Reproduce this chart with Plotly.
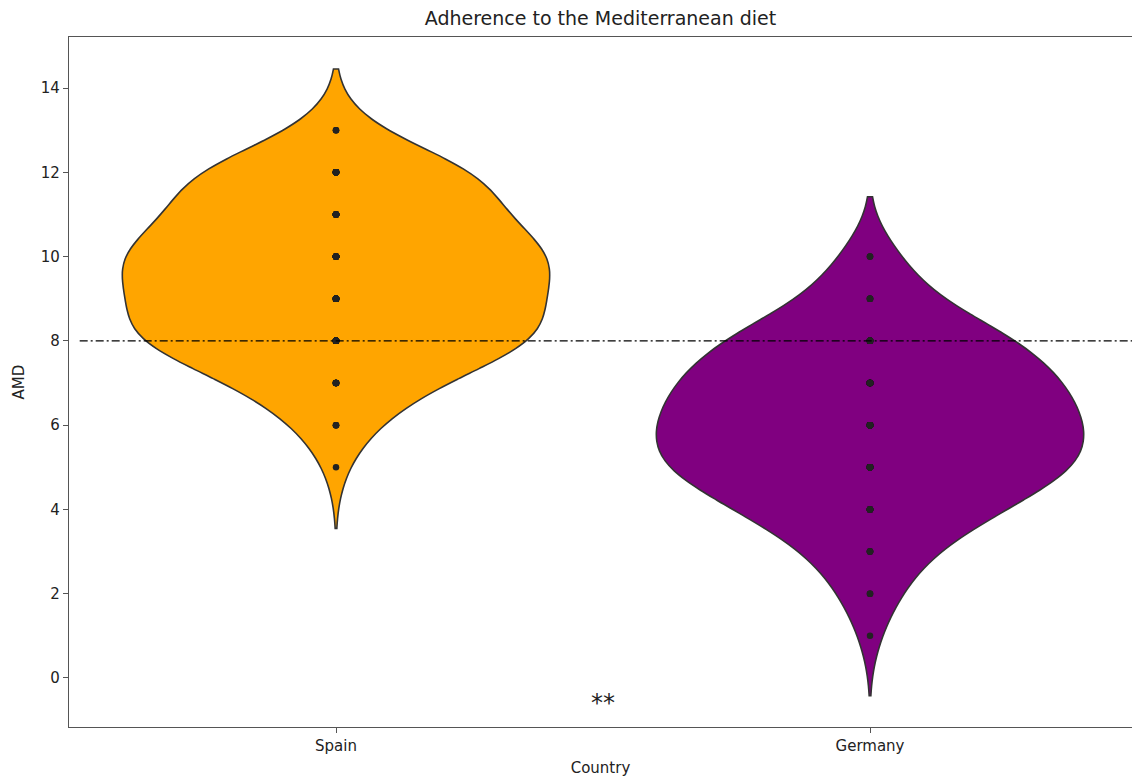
import numpy as np
import plotly.graph_objects as go

# AMD (Mediterranean diet adherence) scores and how many respondents gave each
countries = ["Spain", "Germany"]
spain_scores = [5, 6, 7, 8, 9, 10, 11, 12, 13]
spain_counts = [1, 4, 10, 22, 20, 23, 16, 16, 3]
germany_scores = [1, 2, 3, 4, 5, 6, 7, 8, 9, 10]
germany_counts = [1, 3, 6, 13, 21, 21, 19, 15, 6, 3]

# reference threshold drawn across the plot
threshold_x = [-0.48, 1.5]
threshold_y = [8, 8]

# significance marker between the two groups
signif_text = "**"
signif_pos = (0.5, -0.59)

y_ticks = [0, 2, 4, 6, 8, 10, 12, 14]

spain_y = np.repeat(spain_scores, spain_counts)
germany_y = np.repeat(germany_scores, germany_counts)

FONT = "DejaVu Sans"
AX = "#555555"

fig = go.Figure()

groups = [
    (spain_y, 0, "#FFA500", 0.725),
    (germany_y, 1, "#800080", 0.71),
]
for vals, pos, color, bw in groups:
    fig.add_trace(go.Violin(
        x=np.full(len(vals), pos),
        y=vals,
        bandwidth=bw,
        width=0.8,
        fillcolor=color,
        opacity=1,
        line=dict(color="#333333", width=1.6),
        points="all",
        pointpos=0,
        jitter=0,
        marker=dict(color="#222222", size=6.5, line=dict(width=0)),
        box_visible=False,
        meanline_visible=False,
        showlegend=False,
        hoverinfo="skip",
    ))

fig.add_trace(go.Scatter(
    x=threshold_x, y=threshold_y, mode="lines",
    line=dict(color="black", width=1.3, dash="8px,3px,2px,3px"),
    showlegend=False, hoverinfo="skip",
))

fig.add_annotation(
    x=signif_pos[0], y=signif_pos[1], xref="x", yref="y",
    text=signif_text, showarrow=False,
    font=dict(family=FONT, size=24, color="#222222"),
    xanchor="center", yanchor="middle",
)

fig.update_layout(
    width=1132, height=777,
    margin=dict(l=69, r=0, t=37, b=50),
    paper_bgcolor="white", plot_bgcolor="white",
    font=dict(family=FONT, size=15, color="#222222"),
    title=dict(
        text="Adherence to the Mediterranean diet",
        x=0.5, xref="paper", xanchor="center",
        y=0.977, yref="container", yanchor="middle",
        font=dict(family=FONT, size=19, color="#222222"),
    ),
    violinmode="overlay",
)

fig.update_xaxes(
    range=[-0.5, 1.4906],
    tickvals=[0, 1], ticktext=countries,
    showline=True, linecolor=AX, linewidth=1.3, mirror=True,
    ticks="outside", ticklen=5, tickcolor=AX, tickwidth=1,
    showgrid=False, zeroline=False,
    title=dict(text="Country", standoff=8, font=dict(size=15)),
    automargin=False,
)
fig.update_yaxes(
    range=[-1.163, 15.211],
    tickvals=y_ticks,
    showline=True, linecolor=AX, linewidth=1.3,
    ticks="outside", ticklen=5, tickcolor=AX, tickwidth=1,
    showgrid=False, zeroline=False,
    title=dict(text="AMD", standoff=12, font=dict(size=15)),
    automargin=False,
)

fig.write_html("out.html")
